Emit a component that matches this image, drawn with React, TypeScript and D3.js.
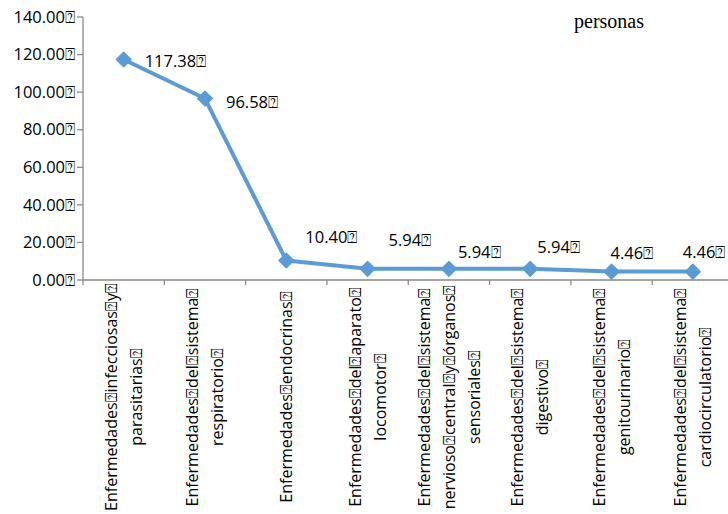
import React from "react";
import * as d3 from "d3";

const BOX = "\u2370";

const categories: string[][] = [
  ["Enfermedades" + BOX + "infecciosas" + BOX + "y" + BOX, "parasitarias" + BOX],
  ["Enfermedades" + BOX + "del" + BOX + "sistema" + BOX, "respiratorio" + BOX],
  ["Enfermedades" + BOX + "endocrinas" + BOX],
  ["Enfermedades" + BOX + "del" + BOX + "aparato" + BOX, "locomotor" + BOX],
  ["Enfermedades" + BOX + "del" + BOX + "sistema" + BOX, "nervioso" + BOX + "central" + BOX + "y" + BOX + "órganos" + BOX, "sensoriales" + BOX],
  ["Enfermedades" + BOX + "del" + BOX + "sistema" + BOX, "digestivo" + BOX],
  ["Enfermedades" + BOX + "del" + BOX + "sistema" + BOX, "genitourinario" + BOX],
  ["Enfermedades" + BOX + "del" + BOX + "sistema" + BOX, "cardiocirculatorio" + BOX],
];
const values: number[] = [117.38, 96.58, 10.4, 5.94, 5.94, 5.94, 4.46, 4.46];
const yTicks: number[] = [0, 20, 40, 60, 80, 100, 120, 140];

const FONT = "'Open Sans', sans-serif";
const BLUE = "#5B9BD5";
const AXIS = "#898989";

// label nudges relative to the marker (dx, dy baseline)
const nudges: [number, number][] = [
  [21, 8], [21, 9], [19, -17], [21, -23], [9, -11], [7, -16], [-1, -13], [-10, -14],
];

export default function App() {
  const W = 728, H = 514;
  const x = d3.scaleBand<number>().domain(d3.range(categories.length)).range([83, 733.5]);
  const y = d3.scaleLinear().domain([0, 140]).range([280, 17]);
  const cx = (i: number) => (x(i) as number) + x.bandwidth() / 2;
  const line = d3.line<number>().x((_, i) => cx(i)).y((d) => y(d));
  const diamond = d3.symbol().type(d3.symbolDiamond2).size(135)();
  const lineH = 25;

  return (
    <svg width={W} height={H} style={{ position: "absolute", left: 0, top: 0, background: "#fff" }} fontFamily={FONT}>
      {/* y axis */}
      <line x1={83} x2={83} y1={y(140)} y2={y(0)} stroke={AXIS} strokeWidth={1.3} />
      {yTicks.map((t) => (
        <g key={t}>
          <line x1={77} x2={83} y1={y(t)} y2={y(t)} stroke={AXIS} strokeWidth={1.3} />
          <text x={75} y={y(t)} dy="0.35em" textAnchor="end" fontSize={16.5} fill="#000">
            {t.toFixed(2) + BOX}
          </text>
        </g>
      ))}
      {/* x axis */}
      <line x1={83} x2={W} y1={y(0)} y2={y(0)} stroke={AXIS} strokeWidth={1.3} />
      {d3.range(categories.length + 1).map((i) => {
        const xx = 83 + i * x.bandwidth();
        return <line key={i} x1={xx} x2={xx} y1={y(0)} y2={y(0) + 5} stroke={AXIS} strokeWidth={1.3} />;
      })}
      {categories.map((lines, i) => {
        const n = lines.length;
        return (
          <g key={i} transform={`translate(${cx(i)},286) rotate(-90)`}>
            {lines.map((l, j) => (
              <text
                key={j}
                x={-111}
                y={(j - (n - 1) / 2) * lineH}
                dy="0.35em"
                textAnchor="middle"
                fontSize={16}
                fill="#000"
              >
                {l}
              </text>
            ))}
          </g>
        );
      })}
      {/* series */}
      <path d={line(values) || ""} fill="none" stroke={BLUE} strokeWidth={4} strokeLinejoin="round" />
      {values.map((v, i) => (
        <path key={i} d={diamond || ""} transform={`translate(${cx(i)},${y(v)})`} fill={BLUE} stroke={BLUE} strokeWidth={1.5} strokeLinejoin="round" />
      ))}
      {values.map((v, i) => (
        <text key={i} x={cx(i) + nudges[i][0]} y={y(v) + nudges[i][1]} fontSize={16.5} fill="#000">
          {v.toFixed(2) + BOX}
        </text>
      ))}
      <text x={574} y={28} fontFamily="'Liberation Serif', 'Times New Roman', serif" fontSize={20} fill="#000">
        personas
      </text>
    </svg>
  );
}
